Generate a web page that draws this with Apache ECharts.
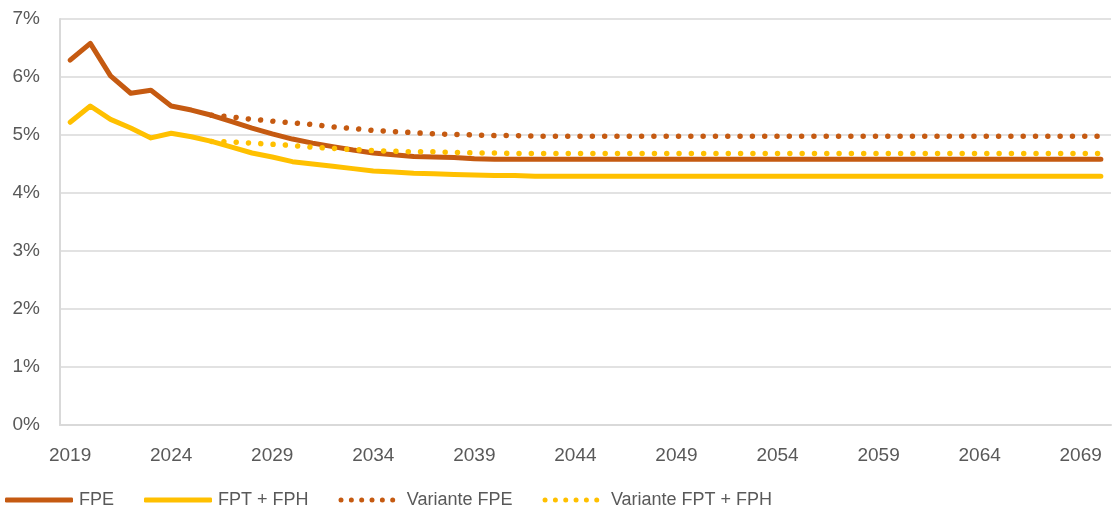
<!DOCTYPE html>
<html>
<head>
<meta charset="utf-8">
<script src="https://cdn.jsdelivr.net/npm/echarts@6/dist/echarts.min.js"></script>
<style>
    html, body { margin: 0; padding: 0; background: #fff; }
    #chart { width: 1113px; height: 516px; }
</style>
</head>
<body>
<div id="chart"></div>
<script>
const years = [
    '2019', '2020', '2021', '2022', '2023', '2024', '2025', '2026', '2027', '2028',
    '2029', '2030', '2031', '2032', '2033', '2034', '2035', '2036', '2037', '2038',
    '2039', '2040', '2041', '2042', '2043', '2044', '2045', '2046', '2047', '2048',
    '2049', '2050', '2051', '2052', '2053', '2054', '2055', '2056', '2057', '2058',
    '2059', '2060', '2061', '2062', '2063', '2064', '2065', '2066', '2067', '2068',
    '2069', '2070'
];

// valeurs en %
const fpe = [
    6.29, 6.58, 6.02, 5.72, 5.77, 5.50, 5.43, 5.34, 5.23, 5.12,
    5.02, 4.93, 4.86, 4.80, 4.74, 4.69, 4.66, 4.63, 4.62, 4.61,
    4.59, 4.58, 4.58, 4.58, 4.58, 4.58, 4.58, 4.58, 4.58, 4.58,
    4.58, 4.58, 4.58, 4.58, 4.58, 4.58, 4.58, 4.58, 4.58, 4.58,
    4.58, 4.58, 4.58, 4.58, 4.58, 4.58, 4.58, 4.58, 4.58, 4.58,
    4.58, 4.58
];

const fptFph = [
    5.22, 5.50, 5.27, 5.12, 4.95, 5.03, 4.97, 4.89, 4.79, 4.69,
    4.62, 4.54, 4.50, 4.46, 4.42, 4.38, 4.36, 4.34, 4.33, 4.32,
    4.31, 4.30, 4.30, 4.29, 4.29, 4.29, 4.29, 4.29, 4.29, 4.29,
    4.29, 4.29, 4.29, 4.29, 4.29, 4.29, 4.29, 4.29, 4.29, 4.29,
    4.29, 4.29, 4.29, 4.29, 4.29, 4.29, 4.29, 4.29, 4.29, 4.29,
    4.29, 4.29
];

const varianteFpe = [
    null, null, null, null, null, null, null, 5.34, 5.31, 5.27,
    5.24, 5.21, 5.18, 5.14, 5.11, 5.08, 5.06, 5.04, 5.02, 5.01,
    5.00, 4.99, 4.99, 4.98, 4.98, 4.98, 4.98, 4.98, 4.98, 4.98,
    4.98, 4.98, 4.98, 4.98, 4.98, 4.98, 4.98, 4.98, 4.98, 4.98,
    4.98, 4.98, 4.98, 4.98, 4.98, 4.98, 4.98, 4.98, 4.98, 4.98,
    4.98, 4.98
];

const varianteFptFph = [
    null, null, null, null, null, null, null, 4.89, 4.88, 4.86,
    4.84, 4.82, 4.79, 4.77, 4.75, 4.73, 4.72, 4.71, 4.71, 4.70,
    4.69, 4.69, 4.68, 4.68, 4.68, 4.68, 4.68, 4.68, 4.68, 4.68,
    4.68, 4.68, 4.68, 4.68, 4.68, 4.68, 4.68, 4.68, 4.68, 4.68,
    4.68, 4.68, 4.68, 4.68, 4.68, 4.68, 4.68, 4.68, 4.68, 4.68,
    4.68, 4.68
];

const orange = '#C55A11';
const yellow = '#FFC000';
const textColor = '#595959';
const gridColor = '#D9D9D9';
const font = 'Liberation Sans';

// icône de légende en pointillés : 6 points ronds
let dotsIcon = 'path://';
for (let i = 0; i < 6; i++) {
    const cx = 3 + i * 12.4;
    dotsIcon += 'M' + (cx - 3) + ',3 a3,3 0 1,0 6,0 a3,3 0 1,0 -6,0 Z ';
}

const chart = echarts.init(document.getElementById('chart'), null, { renderer: 'canvas' });

function lineSeries(name, data, color, dotted) {
    return {
        name: name,
        type: 'line',
        data: data,
        symbol: 'none',
        smooth: false,
        connectNulls: false,
        animation: false,
        lineStyle: dotted
            ? { color: color, width: 5.5, type: [0.01, 12.3], cap: 'round' }
            : { color: color, width: 5, cap: 'round', join: 'round' },
        itemStyle: { color: color }
    };
}

chart.setOption({
    animation: false,
    grid: { left: 60, right: 2, top: 19, bottom: 91, containLabel: false },
    legend: {
        left: 5,
        top: 491,
        padding: 0,
        itemWidth: 68,
        itemHeight: 5,
        itemGap: 30,
        textStyle: { color: textColor, fontSize: 18, fontFamily: font, padding: [0, 0, 0, 1] },
        data: [
            { name: 'FPE', icon: 'roundRect', itemStyle: { color: orange } },
            { name: 'FPT + FPH', icon: 'roundRect', itemStyle: { color: yellow } },
            { name: 'Variante FPE', icon: dotsIcon, itemStyle: { color: orange } },
            { name: 'Variante FPT + FPH', icon: dotsIcon, itemStyle: { color: yellow } }
        ]
    },
    xAxis: {
        type: 'category',
        data: years,
        boundaryGap: true,
        axisLine: { show: true, lineStyle: { color: gridColor, width: 2 } },
        axisTick: { show: false },
        axisLabel: {
            interval: 4,
            margin: 21,
            color: textColor,
            fontSize: 19,
            fontFamily: font
        },
        splitLine: { show: false }
    },
    yAxis: {
        type: 'value',
        min: 0,
        max: 7,
        interval: 1,
        axisLine: { show: true, lineStyle: { color: gridColor, width: 2 } },
        axisTick: { show: false },
        axisLabel: {
            formatter: '{value}%',
            margin: 20,
            color: textColor,
            fontSize: 19,
            fontFamily: font
        },
        splitLine: { show: true, lineStyle: { color: gridColor, width: 1.5 } }
    },
    series: [
        lineSeries('FPE', fpe, orange, false),
        lineSeries('FPT + FPH', fptFph, yellow, false),
        lineSeries('Variante FPE', varianteFpe, orange, true),
        lineSeries('Variante FPT + FPH', varianteFptFph, yellow, true)
    ]
});
</script>
</body>
</html>
